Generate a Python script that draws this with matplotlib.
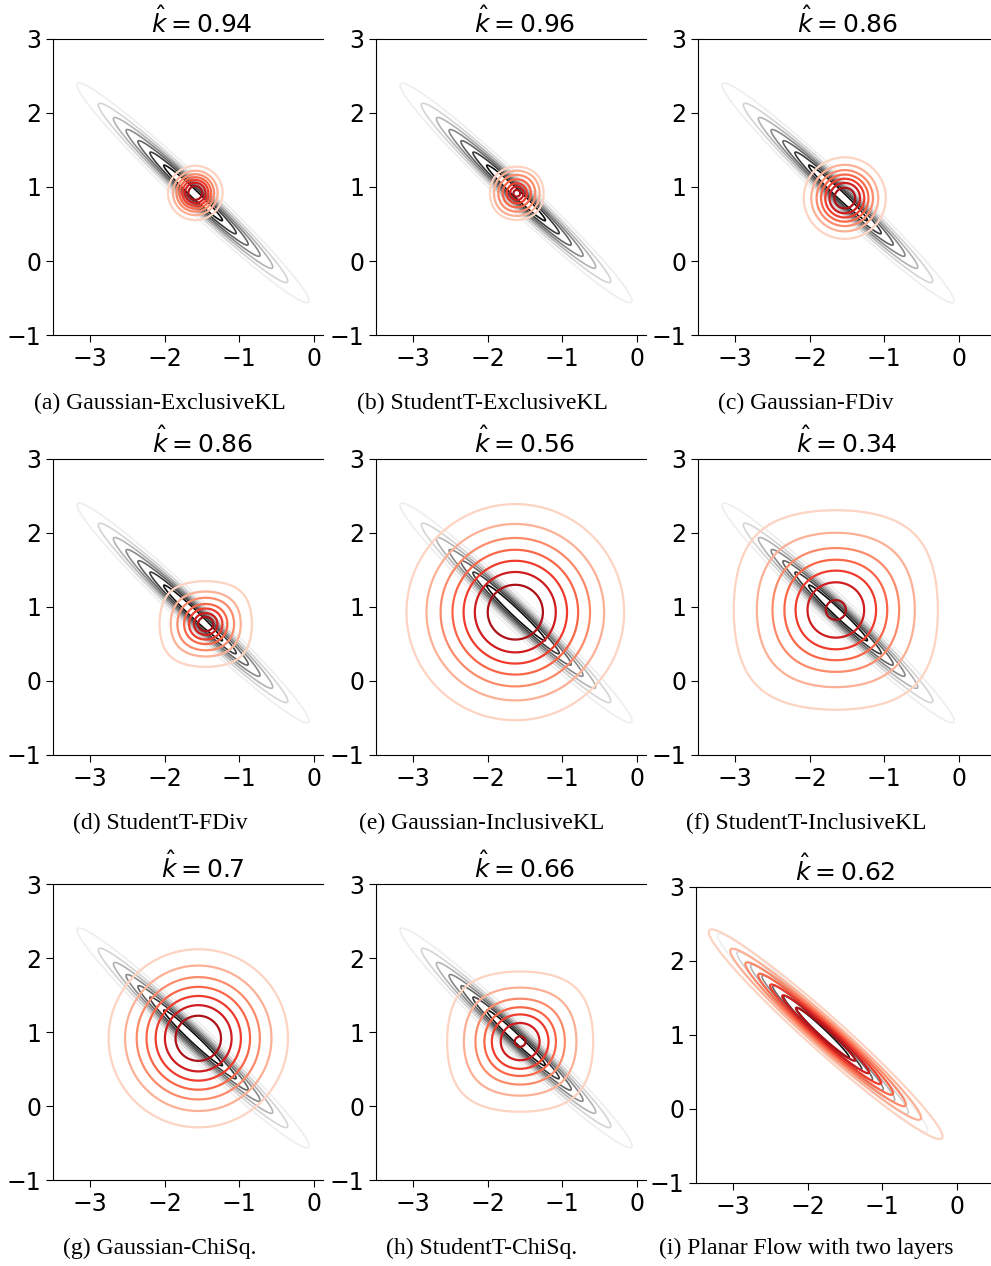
import numpy as np
import matplotlib.pyplot as plt

titles = ["0.94", "0.96", "0.86", "0.86", "0.56", "0.34", "0.7", "0.66", "0.62"]
captions = ["(a) Gaussian-ExclusiveKL", "(b) StudentT-ExclusiveKL", "(c) Gaussian-FDiv",
            "(d) StudentT-FDiv", "(e) Gaussian-InclusiveKL", "(f) StudentT-InclusiveKL",
            "(g) Gaussian-ChiSq.", "(h) StudentT-ChiSq.", "(i) Planar Flow with two layers"]
kinds = ["gauss", "t", "gauss", "t", "gauss", "t", "gauss", "t", "flow"]

# target posterior (gray): mean, std along / across the ridge, ridge angle
target_mean = [-1.62, 0.92]
target_std = [1.05, 0.10]
target_angle = -43.6
# panel (i) shows the target a bit shifted
target_mean_i = [-1.80, 1.03]
target_std_i = [0.95, 0.095]

# contour levels as fraction of the peak density
level_frac = [0.125, 0.25, 0.375, 0.5, 0.625, 0.75, 0.875]

# approximations (red)
q_mean = [[-1.59, 0.92], [-1.61, 0.915], [-1.53, 0.85], [-1.45, 0.77], [-1.63, 0.93],
          [-1.65, 0.96], [-1.55, 0.915], [-1.565, 0.87], [-1.76, 1.01]]
q_scale = [[0.18, 0.18], [0.32, 0.32], [0.27, 0.27], [0.30, 0.28], [0.716, 0.716],
           [0.62, 0.61], [0.59, 0.59], [0.45, 0.435], [1.03, 0.115]]
flow_angle = -42.0
# student-t panels: where each contour crosses the horizontal through the mean
q_radii = {1: [0.36, 0.306, 0.248, 0.189, 0.135, 0.09, 0.045],
           3: [0.62, 0.47, 0.38, 0.29, 0.224, 0.157, 0.103],
           5: [1.37, 1.06, 0.85, 0.69, 0.54, 0.38, 0.135],
           7: [0.98, 0.755, 0.60, 0.48, 0.38, 0.26, 0.072]}

x_ticks = [-3, -2, -1, 0]
y_ticks = [-1, 0, 1, 2, 3]


def gauss_logpdf(X, Y, mean, std, angle=0.0):
    a = np.deg2rad(angle)
    dx, dy = X - mean[0], Y - mean[1]
    u = dx * np.cos(a) + dy * np.sin(a)
    v = -dx * np.sin(a) + dy * np.cos(a)
    return -0.5 * ((u / std[0]) ** 2 + (v / std[1]) ** 2)


def t_logpdf(X, Y, mean, scale):
    return -(np.cosh((X - mean[0]) / scale[0]) - 1) - (np.cosh((Y - mean[1]) / scale[1]) - 1)


W, H = 991, 1266
fig = plt.figure(figsize=(W / 100, H / 100), dpi=100)

col_left = [53, 376, 698]
col_xmax = [0.13, 0.12, 0.5]
row_top = [39, 459, 884]
px_x, px_y = 74.5, 74.0
cap_x = [160, 482, 806]
cap_y = [403, 823, 1248]

grid_x = np.linspace(-3.6, 0.6, 900)
grid_y = np.linspace(-1.1, 3.1, 900)
X, Y = np.meshgrid(grid_x, grid_y)

gray_colors = plt.cm.Greys(np.linspace(0.14, 0.95, 7))
red_colors = plt.cm.Reds(np.linspace(0.17, 0.85, 7))
log_levels = np.log(level_frac)

for i in range(9):
    r, c = divmod(i, 3)
    left, top = col_left[c], row_top[r]
    if i == 8:
        left, top = 696, 887
    w = (col_xmax[c] + 3.5) * px_x
    h = 4 * px_y
    ax = fig.add_axes([left / W, 1 - (top + h) / H, w / W, h / H])

    if kinds[i] == "flow":
        Zt = gauss_logpdf(X, Y, target_mean_i, target_std_i, target_angle)
    else:
        Zt = gauss_logpdf(X, Y, target_mean, target_std, target_angle)
    ax.contour(X, Y, Zt, levels=log_levels, colors=gray_colors, linewidths=1.2)

    if kinds[i] == "gauss":
        Zq = gauss_logpdf(X, Y, q_mean[i], q_scale[i])
        lv = log_levels
    elif kinds[i] == "flow":
        Zq = gauss_logpdf(X, Y, q_mean[i], q_scale[i], flow_angle)
        lv = log_levels
    else:
        Zq = t_logpdf(X, Y, q_mean[i], q_scale[i])
        lv = sorted(-(np.cosh(rr / q_scale[i][0]) - 1) for rr in q_radii[i])
    ax.contour(X, Y, Zq, levels=lv, colors=red_colors, linewidths=1.6)

    ax.set_xlim(-3.5, col_xmax[c])
    ax.set_ylim(-1, 3)
    ax.set_xticks(x_ticks)
    ax.set_yticks(y_ticks)
    ax.tick_params(labelsize=17, length=5)
    ax.spines["right"].set_visible(False)
    ax.set_title(r"$\hat{k} = %s$" % titles[i], fontsize=18, x=2.0 / (col_xmax[c] + 3.5), pad=4)

    fig.text(cap_x[c] / W, 1 - cap_y[r] / H, captions[i], ha="center", va="center",
             fontsize=17, family="Liberation Serif")

fig.savefig("out.png", dpi=100)
